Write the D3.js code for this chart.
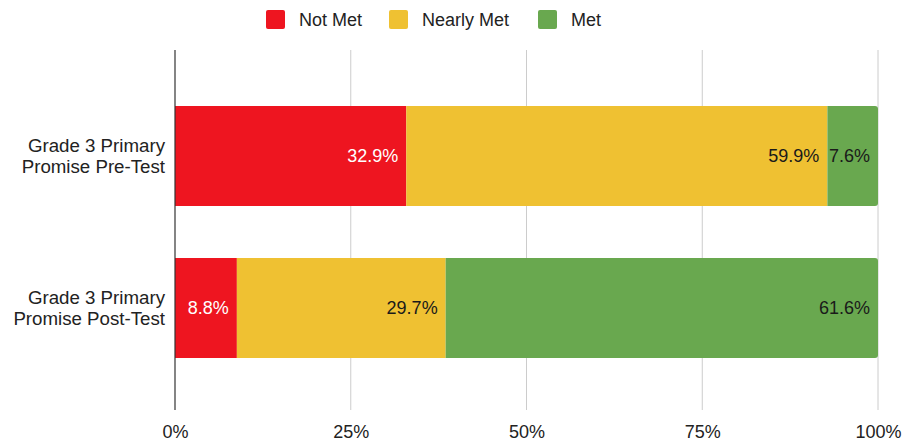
<!DOCTYPE html>
<html><head><meta charset="utf-8">
<script src="https://cdn.jsdelivr.net/npm/d3@7"></script>
<style>body{margin:0;background:#fff}svg{display:block;font-family:"Liberation Sans",Arial,sans-serif}</style>
</head><body><svg id="c" width="902" height="442"></svg>
<script>
const categories = [["Grade 3 Primary","Promise Pre-Test"],["Grade 3 Primary","Promise Post-Test"]];
const seriesNames = ["Not Met","Nearly Met","Met"];
const notMet = [32.9, 8.8];
const nearlyMet = [59.9, 29.7];
const met = [7.6, 61.6];
const tickValues = [0,25,50,75,100];
const colors = ["#EE1520","#EFC132","#69A84F"];
const labelColors = ["#ffffff","#1a1a1a","#1a1a1a"];
const FS = 18;

const svg = d3.select("#c");
const x = d3.scaleLinear().domain([0,100]).range([175,878]);
const y = d3.scaleBand().domain([0,1]).range([60.4,403.6]).paddingInner(52/152).paddingOuter(0.3);

// grid
svg.append("g").selectAll("line").data(tickValues.slice(1)).join("line")
  .attr("x1",d=>x(d)).attr("x2",d=>x(d)).attr("y1",50).attr("y2",410)
  .attr("stroke","#cccccc").attr("stroke-width",1);
const xAxis = svg.append("g").attr("transform","translate(0,410)")
  .call(d3.axisBottom(x).tickValues(tickValues).tickFormat(d=>d+"%").tickSize(0).tickPadding(15));
xAxis.select(".domain").remove();
xAxis.selectAll("text").attr("font-size",FS).attr("fill","#222").attr("font-family","'Liberation Sans',Arial,sans-serif");

const values = [notMet, nearlyMet, met];
const rows = categories.map((c,i)=>{
  let acc = 0;
  return values.map((v,s)=>{ const x0=acc; acc=Math.min(100,acc+v[i]); return {s,i,x0,x1:acc,v:v[i]}; });
});
const g = svg.append("g");
rows.forEach(r=>{
  r.forEach(d=>{
    const w = x(d.x1)-x(d.x0);
    if(d.s===2){
      const x0=x(d.x0), y0=y(d.i), h=y.bandwidth(), rr=3;
      g.append("path").attr("fill",colors[d.s])
        .attr("d",`M${x0},${y0}H${x0+w-rr}Q${x0+w},${y0} ${x0+w},${y0+rr}V${y0+h-rr}Q${x0+w},${y0+h} ${x0+w-rr},${y0+h}H${x0}Z`);
    } else {
      g.append("rect").attr("x",x(d.x0)).attr("y",y(d.i)).attr("width",w).attr("height",y.bandwidth()).attr("fill",colors[d.s]);
    }
    g.append("text").attr("x",x(d.x1)-8).attr("y",y(d.i)+y.bandwidth()/2).attr("dy","0.35em")
      .attr("text-anchor","end").attr("font-size",FS).attr("fill",labelColors[d.s]).text(d.v.toFixed(1)+"%");
  });
});
// axis line
svg.append("line").attr("x1",x(0)).attr("x2",x(0)).attr("y1",50).attr("y2",410).attr("stroke","#333").attr("stroke-width",1.2);

// category labels
categories.forEach((c,i)=>{
  const t = svg.append("text").attr("text-anchor","end").attr("font-size",18.7).attr("fill","#222")
    .attr("x",165).attr("y",y(i)+y.bandwidth()/2);
  c.forEach((line,k)=>t.append("tspan").attr("x",165).attr("dy",k===0?"-0.2em":"1.12em").text(line));
});

// legend
const legX = [266,389,538];
seriesNames.forEach((n,i)=>{
  svg.append("rect").attr("x",legX[i]).attr("y",10).attr("width",19).attr("height",19).attr("rx",2).attr("fill",colors[i]);
  svg.append("text").attr("x",legX[i]+33).attr("y",20).attr("dy","0.35em").attr("font-size",FS).attr("fill","#222").text(n);
});
</script></body></html>
